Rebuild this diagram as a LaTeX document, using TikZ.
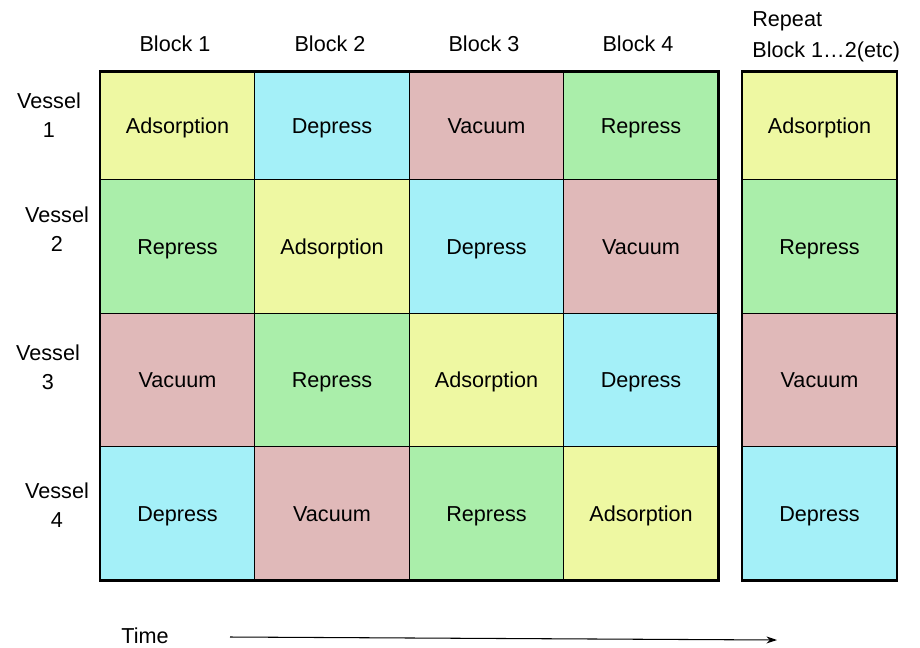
\documentclass[tikz,border=0pt]{standalone}
\usepackage{fontspec}
\setmainfont{Liberation Sans}
\usetikzlibrary{arrows.meta}

\definecolor{adsyellow}{HTML}{EEF8A2}
\definecolor{depcyan}{HTML}{A4F0F8}
\definecolor{vacpink}{HTML}{E0B9B9}
\definecolor{repgreen}{HTML}{AAEEAA}

\begin{document}
\begin{tikzpicture}[
    x=0.02cm, y=-0.02cm,
    every node/.style={font=\fontsize{12.3}{16.6}\selectfont},
    cell style/.style={
        draw=black,
        line width=0.5pt,
        inner sep=0pt,
        minimum width=3.09cm,
        minimum height=2.667cm,
        text height=10pt,
        text depth=1.4pt,
        align=center
    },
    top cell/.style={cell style, minimum height=2.16cm},
    ads/.style={fill=adsyellow},
    dep/.style={fill=depcyan},
    vac/.style={fill=vacpink},
    rep/.style={fill=repgreen},
    label style/.style={align=center, inner sep=0pt},
    arrow style/.style={
        line width=0.6pt,
        -{Stealth[length=6pt,width=4pt]}
    }
]

% Page
\useasboundingbox (0,0) rectangle (920,647);

% Column headers
\node[label style] (B1) at (175,44) {Block 1};
\node[label style] (B2) at (330,44) {Block 2};
\node[label style] (B3) at (484,44) {Block 3};
\node[label style] (B4) at (638,44) {Block 4};
\node[align=left, inner sep=0pt, anchor=north west,
      font=\fontsize{12.3}{17.6}\selectfont] (RB) at (752,11) {Repeat\\Block 1…2(etc)};

% Row headers
\node[label style] (V1) at (49,115) {Vessel\\1};
\node[label style] (V2) at (57,229) {Vessel\\2};
\node[label style] (V3) at (48,367) {Vessel\\3};
\node[label style] (V4) at (57,505) {Vessel\\4};

% Vessel 1
\node[top cell, ads] (c11) at (177.5,126) {Adsorption};
\node[top cell, dep] (c12) at (332,126)   {Depress};
\node[top cell, vac] (c13) at (486.5,126) {Vacuum};
\node[top cell, rep] (c14) at (641,126)   {Repress};

% Vessel 2
\node[cell style, rep] (c21) at (177.5,246.5) {Repress};
\node[cell style, ads] (c22) at (332,246.5)   {Adsorption};
\node[cell style, dep] (c23) at (486.5,246.5) {Depress};
\node[cell style, vac] (c24) at (641,246.5)   {Vacuum};

% Vessel 3
\node[cell style, vac] (c31) at (177.5,380) {Vacuum};
\node[cell style, rep] (c32) at (332,380)   {Repress};
\node[cell style, ads] (c33) at (486.5,380) {Adsorption};
\node[cell style, dep] (c34) at (641,380)   {Depress};

% Vessel 4
\node[cell style, dep] (c41) at (177.5,513.5) {Depress};
\node[cell style, vac] (c42) at (332,513.5)   {Vacuum};
\node[cell style, rep] (c43) at (486.5,513.5) {Repress};
\node[cell style, ads] (c44) at (641,513.5)   {Adsorption};

% Repeat column
\node[top cell, ads]   (r1) at (819.5,126)   {Adsorption};
\node[cell style, rep] (r2) at (819.5,246.5) {Repress};
\node[cell style, vac] (r3) at (819.5,380)   {Vacuum};
\node[cell style, dep] (r4) at (819.5,513.5) {Depress};

% Thick outlines
\draw[line width=1.4pt] (c11.north west) rectangle (c44.south east);
\draw[line width=1.4pt] (r1.north west) rectangle (r4.south east);

% Time axis
\node[label style] (T) at (145,636) {Time};
\coordinate (t0) at (230,637);
\coordinate (t1) at (777,640);
\draw[arrow style] (t0) -- (t1);

\end{tikzpicture}
\end{document}
